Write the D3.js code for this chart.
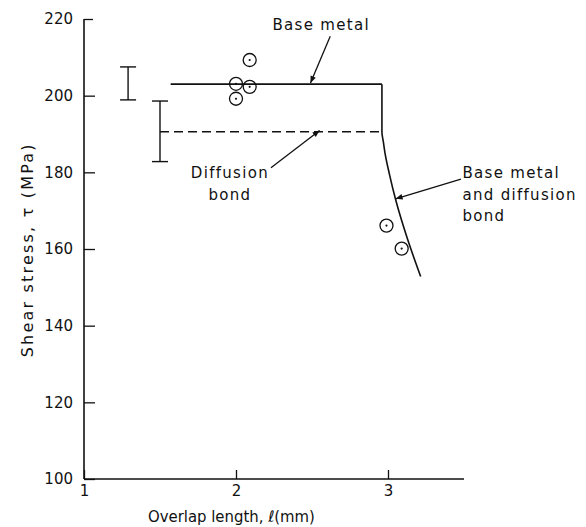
<!DOCTYPE html>
<html>
<head>
<meta charset="utf-8">
<script src="https://cdn.jsdelivr.net/npm/d3@7"></script>
<style>
  body { margin: 0; background: #fff; }
  text { font-family: "DejaVu Sans", sans-serif; fill: #111; }
</style>
</head>
<body>
<div id="chart"></div>
<script>
// data
var xTicks = [1, 2, 3];
var yTicks = [100, 120, 140, 160, 180, 200, 220];

var baseMetalLine = [[1.57, 203], [2.96, 203]];
var diffusionLine = [[1.5, 190.6], [2.96, 190.6]];
var fallCurve = [[2.96, 203], [2.96, 190.6], [2.97, 187.8], [2.98, 185.1], [3.01, 179.4],
                 [3.05, 172.9], [3.13, 162.4], [3.215, 152.8]];

var testX = [2.09, 2.0, 2.09, 2.0, 2.99, 3.09];
var testY = [209.3, 203.1, 202.3, 199.2, 166.1, 160.1];

var barX = [1.29, 1.5];
var barLow = [198.9, 182.8];
var barHigh = [207.5, 198.6];

var margin = {top: 19, right: 122, bottom: 48, left: 84};
var width = 586 - margin.left - margin.right;
var height = 527 - margin.top - margin.bottom;

var svg = d3.select("#chart")
  .append("svg")
    .attr("width", 586)
    .attr("height", 527)
  .append("g")
    .attr("transform", "translate(" + margin.left + "," + margin.top + ")");

var x = d3.scaleLinear().domain([1, 3.5]).range([0, width]);
var y = d3.scaleLinear().domain([100, 220]).range([height, 0]);

// axes, ticks pointing inward
var xAxis = svg.append("g")
    .attr("transform", "translate(0," + height + ")")
    .call(d3.axisBottom(x).tickValues(xTicks).tickSize(-9).tickPadding(14).tickFormat(d3.format("d")));
var yAxis = svg.append("g")
    .call(d3.axisLeft(y).tickValues(yTicks).tickSize(-11).tickPadding(11).tickFormat(d3.format("d")));

svg.selectAll(".domain").attr("stroke", "#111").attr("stroke-width", 1.6);
svg.selectAll(".tick line").attr("stroke", "#111").attr("stroke-width", 1.3);
svg.selectAll(".tick text").style("font-size", "15px").style("fill", "#111")
    .style("font-family", "DejaVu Sans, sans-serif");
xAxis.selectAll(".tick text").attr("dy", "0.2em");
// drop the domain end caps
xAxis.select(".domain").attr("d", "M0,0H" + width);
yAxis.select(".domain").attr("d", "M0," + height + "V0");
// 220 tick is short stub
yAxis.selectAll(".tick").filter(function (d) { return d === 220; }).select("line").attr("x2", 9);

// axis labels
svg.append("text")
    .attr("text-anchor", "middle")
    .attr("x", x(1.97))
    .attr("y", height + 43)
    .attr("textLength", 167)
    .attr("lengthAdjust", "spacingAndGlyphs")
    .style("font-size", "16px")
    .text("Overlap length, \u2113(mm)");

svg.append("text")
    .attr("text-anchor", "middle")
    .attr("transform", "translate(" + (-51) + "," + y(159.8) + ") rotate(-90)")
    .style("font-size", "16px")
    .style("letter-spacing", "2.2px")
    .text("Shear stress, \u03C4 (MPa)");

var line = d3.line().x(function (d) { return x(d[0]); }).y(function (d) { return y(d[1]); });

svg.append("path").datum(baseMetalLine)
    .attr("d", line).attr("fill", "none").attr("stroke", "#111").attr("stroke-width", 1.6);
svg.append("path").datum(diffusionLine)
    .attr("d", line).attr("fill", "none").attr("stroke", "#111").attr("stroke-width", 1.6)
    .attr("stroke-dasharray", "9,5");
svg.append("path").datum(fallCurve)
    .attr("d", d3.line().x(function (d) { return x(d[0]); }).y(function (d) { return y(d[1]); }).curve(d3.curveMonotoneY))
    .attr("fill", "none").attr("stroke", "#111").attr("stroke-width", 1.6);

// scatter bars
barX.forEach(function (bx, i) {
    var g = svg.append("g").attr("stroke", "#111").attr("stroke-width", 1.4);
    g.append("line").attr("x1", x(bx)).attr("x2", x(bx)).attr("y1", y(barLow[i])).attr("y2", y(barHigh[i]));
    g.append("line").attr("x1", x(bx) - 8).attr("x2", x(bx) + 8).attr("y1", y(barLow[i])).attr("y2", y(barLow[i]));
    g.append("line").attr("x1", x(bx) - 8).attr("x2", x(bx) + 8).attr("y1", y(barHigh[i])).attr("y2", y(barHigh[i]));
});

// test points: circle with a dot
var pts = svg.append("g").selectAll("g")
    .data(testX.map(function (d, i) { return [d, testY[i]]; }))
    .enter().append("g")
    .attr("transform", function (d) { return "translate(" + x(d[0]) + "," + y(d[1]) + ")"; });
pts.append("circle").attr("r", 6.5).attr("fill", "none").attr("stroke", "#111").attr("stroke-width", 1.3);
pts.append("circle").attr("r", 1.1).attr("fill", "#111");

// annotations with arrows
svg.append("defs").append("marker")
    .attr("id", "head")
    .attr("viewBox", "0 0 10 10")
    .attr("refX", 10).attr("refY", 5)
    .attr("markerWidth", 9).attr("markerHeight", 7)
    .attr("markerUnits", "userSpaceOnUse")
    .attr("orient", "auto")
  .append("path").attr("d", "M0,1L10,5L0,9Z").attr("fill", "#111");

function note(lines, tx, ty, anchor, from, to) {
    var t = svg.append("text").attr("text-anchor", anchor).style("font-size", "15px").style("letter-spacing", "1.3px");
    lines.forEach(function (s, i) {
        t.append("tspan").attr("x", tx).attr("y", ty + i * 21.5).text(s);
    });
    svg.append("line")
        .attr("x1", from[0]).attr("y1", from[1])
        .attr("x2", to[0]).attr("y2", to[1])
        .attr("stroke", "#111").attr("stroke-width", 1.3)
        .attr("marker-end", "url(#head)");
}

note(["Base metal"], x(2.24), y(217.2), "start",
    [x(2.62), y(215.5)], [x(2.49), y(203.3)]);
note(["Diffusion", "bond"], x(1.96), y(178.5), "middle",
    [x(2.23), y(181.2)], [x(2.55), y(190.9)]);
note(["Base metal", "and diffusion", "bond"], x(3.49), y(178.5), "start",
    [x(3.48), y(178.2)], [x(3.05), y(173.1)]);
</script>
</body>
</html>
